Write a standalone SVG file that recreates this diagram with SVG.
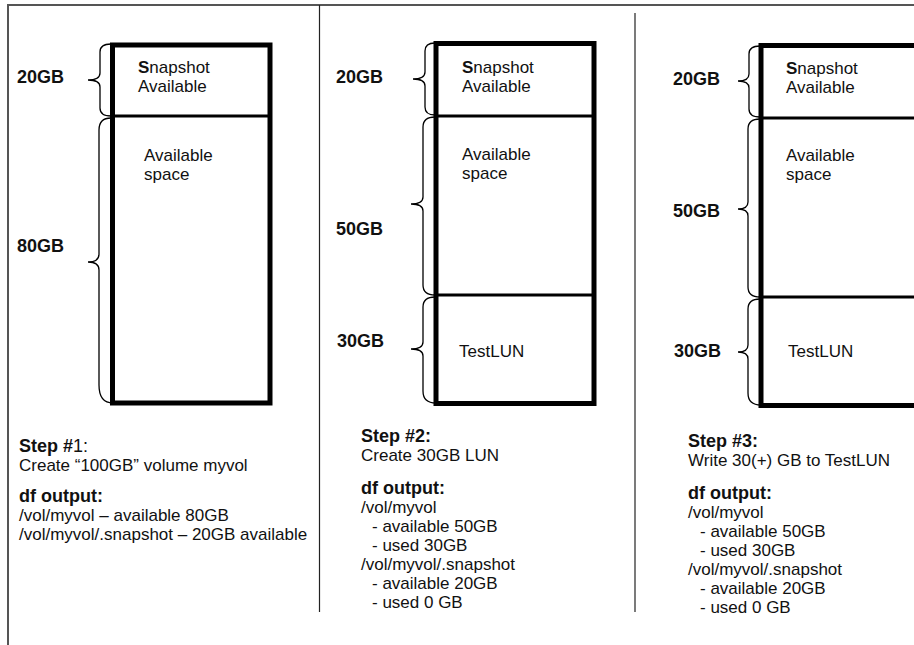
<svg xmlns="http://www.w3.org/2000/svg" width="914" height="645" viewBox="0 0 914 645">
<style>
text{font-family:"Liberation Sans",Arial,sans-serif;fill:#111}
.lbl{font-size:18px;font-weight:bold}
.box{font-size:17px}
.body{font-size:17px}
.hd{font-size:18px;font-weight:bold}
.vol{fill:#fff;stroke:#000;stroke-width:5}
.div{stroke:#000;stroke-width:3}
.brace{fill:none;stroke:#000;stroke-width:1.3}
.frame{stroke:#555;stroke-width:2;fill:none}
.sep{stroke:#222;stroke-width:1.2}
</style>
<rect width="914" height="645" fill="#fff"/>
<g id="frame">
<path class="frame" d="M8,645 V5 H914"/>
<line class="sep" x1="319.5" y1="5" x2="319.5" y2="612"/>
<line class="sep" x1="635" y1="13" x2="635" y2="612"/>
</g>
<g id="vol1">
<rect class="vol" x="112.5" y="45" width="157.5" height="358"/>
<line class="div" x1="113" y1="116" x2="270" y2="116"/>
<text class="box" x="138" y="73"><tspan font-weight="bold">S</tspan>napshot</text>
<text class="box" x="138" y="92">Available</text>
<text class="box" x="144" y="161">Available</text>
<text class="box" x="144" y="180">space</text>
<text class="lbl" x="17" y="83">20GB</text>
<text class="lbl" x="17" y="252">80GB</text>
</g>
<g id="vol2">
<rect class="vol" x="436" y="43.5" width="158" height="360"/>
<line class="div" x1="436" y1="116" x2="594" y2="116"/>
<line class="div" x1="436" y1="295" x2="594" y2="295"/>
<text class="box" x="462" y="73"><tspan font-weight="bold">S</tspan>napshot</text>
<text class="box" x="462" y="92">Available</text>
<text class="box" x="462" y="160">Available</text>
<text class="box" x="462" y="179">space</text>
<text class="box" x="459" y="357">TestLUN</text>
<text class="lbl" x="336" y="83">20GB</text>
<text class="lbl" x="336" y="235">50GB</text>
<text class="lbl" x="337" y="347">30GB</text>
</g>
<g id="vol3">
<rect class="vol" x="761" y="45.5" width="200" height="360"/>
<line class="div" x1="761" y1="118" x2="914" y2="118"/>
<line class="div" x1="761" y1="297" x2="914" y2="297"/>
<text class="box" x="786" y="74"><tspan font-weight="bold">S</tspan>napshot</text>
<text class="box" x="786" y="93">Available</text>
<text class="box" x="786" y="161">Available</text>
<text class="box" x="786" y="180">space</text>
<text class="box" x="788" y="357">TestLUN</text>
<text class="lbl" x="673" y="85">20GB</text>
<text class="lbl" x="673" y="217">50GB</text>
<text class="lbl" x="674" y="357">30GB</text>
</g>
<g id="braces">
<path class="brace" d="M111,44 Q100,44 100,52 L100,73 Q100,80 88,80 Q100,80 100,87 L100,108 Q100,116 111,116"/>
<path class="brace" d="M111,118 Q99,118 99,130 L99,254 Q99,262 88,262 Q99,262 99,270 L99,385 Q99,403 113,403"/>
<path class="brace" d="M435,43 Q425,43 425,51 L425,72 Q425,79 413,79 Q425,79 425,86 L425,107 Q425,115 435,115"/>
<path class="brace" d="M435,117 Q423,117 423,127 L423,197 Q423,204 411,204 Q423,204 423,211 L423,285 Q423,295 435,295"/>
<path class="brace" d="M435,297 Q423,297 423,307 L423,342 Q423,349 411,349 Q423,349 423,356 L423,391 Q423,403 436,403"/>
<path class="brace" d="M760,46 Q749,46 749,54 L749,74 Q749,81 738,81 Q749,81 749,88 L749,109 Q749,117 760,117"/>
<path class="brace" d="M760,119 Q748,119 748,129 L748,202 Q748,209 738,209 Q748,209 748,216 L748,287 Q748,297 760,297"/>
<path class="brace" d="M760,299 Q748,299 748,309 L748,345 Q748,352 738,352 Q748,352 748,359 L748,393 Q748,405 761,405"/>
</g>
<g id="step1">
<text class="hd" x="19" y="452">Step #<tspan font-weight="normal">1:</tspan></text>
<text class="body" x="19" y="471">Create “100GB” volume myvol</text>
<text class="hd" x="19" y="502">df output:</text>
<text class="body" x="19" y="521">/vol/myvol – available 80GB</text>
<text class="body" x="19" y="540">/vol/myvol/.snapshot – 20GB available</text>
</g>
<g id="step2">
<text class="hd" x="361" y="442">Step #2:</text>
<text class="body" x="361" y="461">Create 30GB LUN</text>
<text class="hd" x="361" y="494">df output:</text>
<text class="body" x="361" y="513">/vol/myvol</text>
<text class="body" x="372" y="532">- available 50GB</text>
<text class="body" x="372" y="551">- used 30GB</text>
<text class="body" x="361" y="570">/vol/myvol/.snapshot</text>
<text class="body" x="372" y="589">- available 20GB</text>
<text class="body" x="372" y="608">- used 0 GB</text>
</g>
<g id="step3">
<text class="hd" x="688" y="447">Step #3:</text>
<text class="body" x="688" y="466">Write 30(+) GB to TestLUN</text>
<text class="hd" x="688" y="499">df output:</text>
<text class="body" x="688" y="518">/vol/myvol</text>
<text class="body" x="700" y="537">- available 50GB</text>
<text class="body" x="700" y="556">- used 30GB</text>
<text class="body" x="688" y="575">/vol/myvol/.snapshot</text>
<text class="body" x="700" y="594">- available 20GB</text>
<text class="body" x="700" y="613">- used 0 GB</text>
</g>
</svg>
